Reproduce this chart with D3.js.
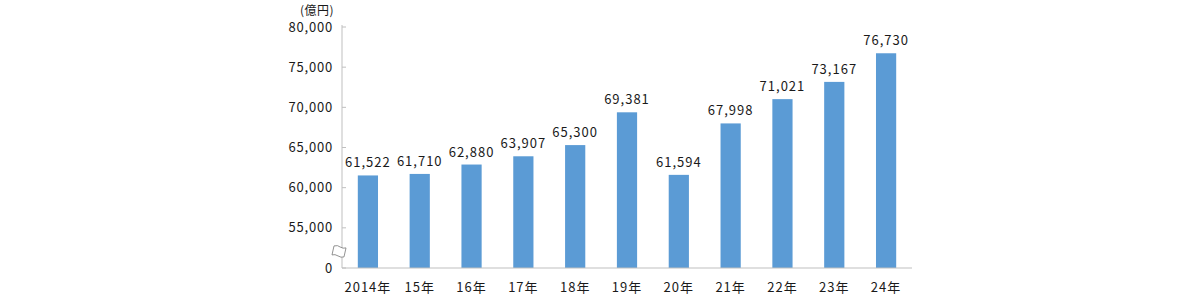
<!DOCTYPE html>
<html lang="ja">
<head>
<meta charset="UTF-8">
<script src="https://d3js.org/d3.v7.min.js"></script>
<style>
  body { margin: 0; background: #fff; }
  svg { display: block; }
  text { font-family: "Noto Sans CJK JP", "Noto Sans", sans-serif; fill: #1a1a1a; }
</style>
</head>
<body>
<svg id="chart" width="1200" height="300"></svg>
<script>
  const years = ['2014年', '15年', '16年', '17年', '18年', '19年', '20年', '21年', '22年', '23年', '24年'];
  const values = [61522, 61710, 62880, 63907, 65300, 69381, 61594, 67998, 71021, 73167, 76730];
  const tickValues = [50000, 55000, 60000, 65000, 70000, 75000, 80000];
  const tickLabels = ['0', '55,000', '60,000', '65,000', '70,000', '75,000', '80,000'];
  const unitLabel = '(億円)';

  const svg = d3.select('#chart');
  const plotL = 342, plotR = 912, plotT = 25, plotB = 268;

  const x = d3.scaleBand().domain(years).range([plotL, plotR]).paddingInner(0.61).paddingOuter(0.305);
  const y = d3.scaleLinear().domain([50000, 80000]).range([plotB, 27]);

  // bars
  svg.selectAll('rect.bar').data(values).enter().append('rect')
    .attr('class', 'bar')
    .attr('x', (d, i) => x(years[i]))
    .attr('width', x.bandwidth())
    .attr('y', d => y(d))
    .attr('height', d => plotB - y(d))
    .attr('fill', '#5b9bd5');

  // value labels
  const fmt = d3.format(',');
  svg.selectAll('text.val').data(values).enter().append('text')
    .attr('class', 'val')
    .attr('x', (d, i) => x(years[i]) + x.bandwidth() / 2)
    .attr('y', d => y(d) - 8)
    .attr('text-anchor', 'middle')
    .attr('font-size', 13)
    .attr('letter-spacing', 1)
    .text(d => fmt(d));

  // y axis
  const yAxis = svg.append('g');
  yAxis.append('line')
    .attr('x1', plotL).attr('x2', plotL).attr('y1', plotT).attr('y2', plotB)
    .attr('stroke', '#bfbfbf');
  yAxis.selectAll('line.tick').data(tickValues).enter().append('line')
    .attr('class', 'tick')
    .attr('x1', plotL).attr('x2', plotL + 4)
    .attr('y1', d => y(d)).attr('y2', d => y(d))
    .attr('stroke', '#bfbfbf');
  yAxis.selectAll('text').data(tickValues).enter().append('text')
    .attr('x', 333)
    .attr('y', d => y(d))
    .attr('dy', '0.35em')
    .attr('text-anchor', 'end')
    .attr('font-size', 13)
    .attr('letter-spacing', 0.8)
    .text((d, i) => tickLabels[i]);

  svg.append('text')
    .attr('x', 334).attr('y', 15)
    .attr('text-anchor', 'end')
    .attr('font-size', 12)
    .attr('letter-spacing', 0.5)
    .text(unitLabel);

  // x axis
  svg.append('line')
    .attr('x1', plotL).attr('x2', plotR).attr('y1', plotB).attr('y2', plotB)
    .attr('stroke', '#bfbfbf');
  svg.selectAll('text.xl').data(years).enter().append('text')
    .attr('class', 'xl')
    .attr('x', d => x(d) + x.bandwidth() / 2)
    .attr('y', 292)
    .attr('text-anchor', 'middle')
    .attr('font-size', 13)
    .attr('letter-spacing', 1)
    .text(d => d);

  // axis break mark (slanted wavy band across the y axis)
  const by = (y(55000) + plotB) / 2 + 4;
  svg.append('path')
    .attr('d', `M${plotL - 8},${by - 6} q4,-1 6,1 q3,2 6,1 l-2,9 q-3,1 -6,-1 q-3,-2 -6,-1 z`)
    .attr('fill', '#fff')
    .attr('stroke', '#777')
    .attr('stroke-width', 0.8);
</script>
</body>
</html>
